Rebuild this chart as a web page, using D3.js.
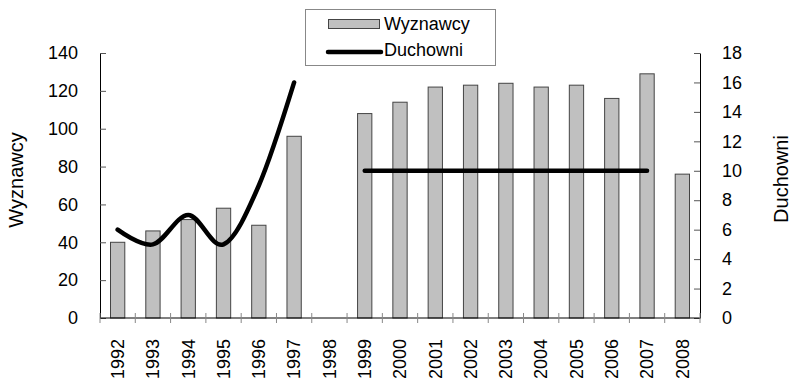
<!DOCTYPE html>
<html>
<head>
<meta charset="utf-8">
<script src="https://cdn.jsdelivr.net/npm/d3@7"></script>
<style>
  body { margin: 0; background: #fff; }
  text { font-family: "Liberation Sans", Arial, sans-serif; }
</style>
</head>
<body>
<div id="container"></div>
<script>
/* DATA */
const years = ["1992","1993","1994","1995","1996","1997","1998","1999","2000","2001","2002","2003","2004","2005","2006","2007","2008"]
const wyznawcy = [40, 46, 52, 58, 49, 96, null, 108, 114, 122, 123, 124, 122, 123, 116, 129, 76]
const duchowni = [6, 5, 7, 5, 9, 16, null, 10, 10, 10, 10, 10, 10, 10, 10, 10, null]
const leftTicks = [0, 20, 40, 60, 80, 100, 120, 140]
const rightTicks = [0, 2, 4, 6, 8, 10, 12, 14, 16, 18]

/* CONSTANTS */
const width = 791,
  height = 379,
  margin = { top: 53, bottom: 61, left: 100, right: 91 },
  fontSize = 18

const svg = d3.select("#container")
  .append("svg")
  .attr("width", width)
  .attr("height", height)

const xScale = d3.scaleBand()
  .domain(years)
  .range([margin.left, width - margin.right])

const yLeft = d3.scaleLinear()
  .domain([0, 140])
  .range([height - margin.bottom, margin.top])

const yRight = d3.scaleLinear()
  .domain([0, 18])
  .range([height - margin.bottom, margin.top])

const barW = xScale.bandwidth() * 0.405

// bars
svg.selectAll("rect.bar")
  .data(years.map((y, i) => ({ year: y, v: wyznawcy[i] })).filter(d => d.v != null))
  .join("rect")
  .attr("class", "bar")
  .attr("x", d => xScale(d.year) + (xScale.bandwidth() - barW) / 2)
  .attr("y", d => yLeft(d.v))
  .attr("width", barW)
  .attr("height", d => yLeft(0) - yLeft(d.v))
  .attr("fill", "#c0c0c0")
  .attr("stroke", "#444")
  .attr("stroke-width", 1)

// left axis
const leftAxis = d3.axisLeft(yLeft).tickValues(leftTicks).tickSizeInner(-6).tickSizeOuter(0).tickPadding(22)
const gL = svg.append("g")
  .attr("transform", `translate(${margin.left},0)`)
  .call(leftAxis)

// right axis
const rightAxis = d3.axisRight(yRight).tickValues(rightTicks).tickSizeInner(-6).tickSizeOuter(0).tickPadding(22)
const gR = svg.append("g")
  .attr("transform", `translate(${width - margin.right},0)`)
  .call(rightAxis)

// x axis with cross ticks at band boundaries
const xAxis = d3.axisBottom(xScale).tickSize(0)
const gX = svg.append("g")
  .attr("transform", `translate(0,${height - margin.bottom})`)
  .call(xAxis)
gX.selectAll(".tick line").remove()
gX.selectAll(".tick text")
  .attr("transform", "rotate(-90)")
  .attr("text-anchor", "end")
  .attr("x", -21)
  .attr("y", 0)
  .attr("dy", "0.35em")
const bounds = years.map(y => xScale(y)).concat([xScale.range()[1]])
gX.selectAll("line.xt")
  .data(bounds)
  .join("line")
  .attr("class", "xt")
  .attr("x1", d => d).attr("x2", d => d)
  .attr("y1", -5).attr("y2", 5)
  .attr("stroke", "#888")

;[gL, gR, gX].forEach(g => {
  g.selectAll(".domain").attr("stroke", "#000")
  g.selectAll(".tick line").attr("stroke", "#555")
  g.selectAll("text").attr("font-size", fontSize).attr("fill", "#000")
    .attr("font-family", "Liberation Sans, Arial, sans-serif")
})
gX.select(".domain").attr("d", `M${margin.left},0H${width - margin.right}`)

// line (smoothed, gaps at missing values)
const line = d3.line()
  .defined(d => d.v != null)
  .x(d => xScale(d.year) + xScale.bandwidth() / 2)
  .y(d => yRight(d.v))
  .curve(d3.curveCatmullRom.alpha(0))

svg.append("path")
  .datum(years.map((y, i) => ({ year: y, v: duchowni[i] })))
  .attr("d", line)
  .attr("fill", "none")
  .attr("stroke", "#000")
  .attr("stroke-width", 4.5)
  .attr("stroke-linecap", "round")

// axis titles
svg.append("text")
  .attr("transform", `translate(23,180) rotate(-90)`)
  .attr("text-anchor", "middle")
  .attr("font-size", 20)
  .text("Wyznawcy")

svg.append("text")
  .attr("transform", `translate(788,179) rotate(-90)`)
  .attr("text-anchor", "middle")
  .attr("font-size", 20)
  .text("Duchowni")

// legend
const lg = svg.append("g")
lg.append("rect").attr("x", 305.5).attr("y", 9.5).attr("width", 190).attr("height", 56)
  .attr("fill", "#fff").attr("stroke", "#888")
lg.append("rect").attr("x", 328.5).attr("y", 19.5).attr("width", 51).attr("height", 9)
  .attr("fill", "#c0c0c0").attr("stroke", "#444")
lg.append("line").attr("x1", 328).attr("x2", 381).attr("y1", 52).attr("y2", 52)
  .attr("stroke", "#000").attr("stroke-width", 4.5).attr("stroke-linecap", "round")
lg.append("text").attr("x", 384).attr("y", 29.5).attr("font-size", fontSize).text("Wyznawcy")
lg.append("text").attr("x", 384).attr("y", 56).attr("font-size", fontSize).text("Duchowni")
</script>
</body>
</html>
